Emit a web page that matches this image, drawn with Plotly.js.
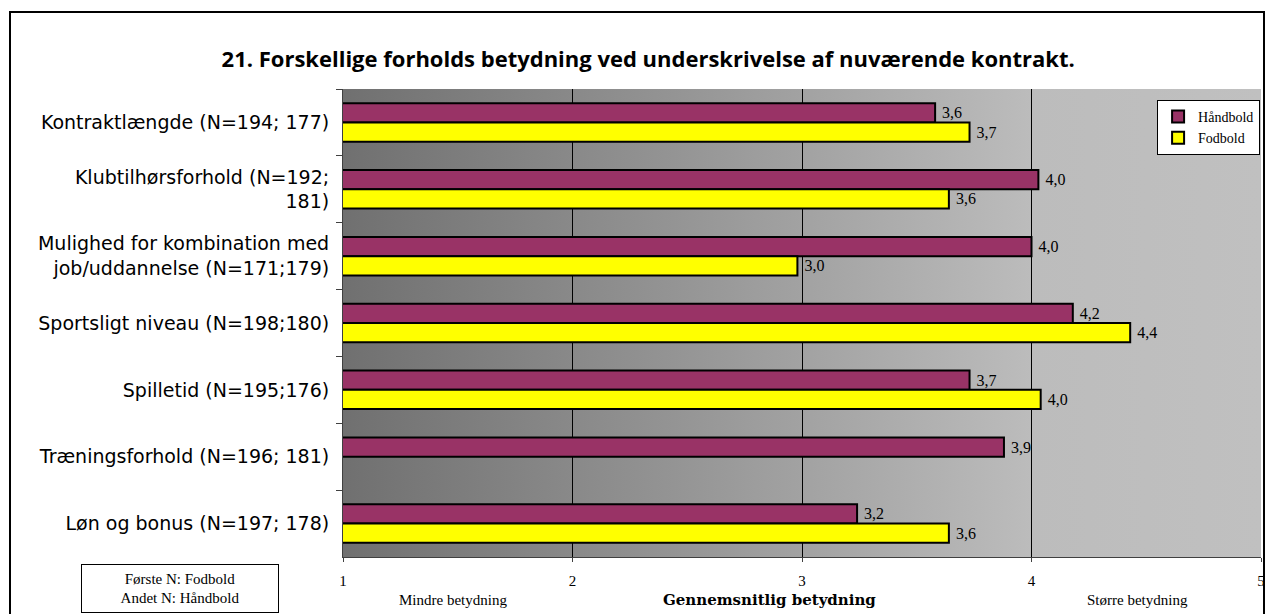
<!DOCTYPE html>
<html>
<head>
<meta charset="utf-8">
<script src="https://cdn.plot.ly/plotly-3.0.1.min.js"></script>
<style>
  html, body { margin: 0; padding: 0; background: #fff; }
  #wrap { position: relative; width: 1266px; height: 614px; overflow: hidden; }
  #chart { position: absolute; left: 0; top: 0; width: 1266px; height: 614px; }
  #frame { position: absolute; left: 9px; top: 11px; width: 1252px; height: 640px;
           border: 2px solid #000; pointer-events: none; }
</style>
</head>
<body>
<div id="wrap">
  <div id="chart"></div>
  <div id="frame"></div>
</div>
<script>
// ---- data ----
const categories = [
  'Kontraktlængde (N=194; 177)',
  'Klubtilhørsforhold (N=192;<br>181)',
  'Mulighed for kombination med<br>job/uddannelse (N=171;179)',
  'Sportsligt niveau (N=198;180)',
  'Spilletid (N=195;176)',
  'Træningsforhold (N=196; 181)',
  'Løn og bonus (N=197; 178)'
];
const handbold = [3.58, 4.03, 4.00, 4.18, 3.73, 3.88, 3.24];
const fodbold  = [3.73, 3.64, 2.98, 4.43, 4.04, null, 3.64];
const seriesNames = ['Håndbold', 'Fodbold'];
const xTickVals = [1, 2, 3, 4, 5];
const scaleLabels = ['Mindre betydning', 'Gennemsnitlig betydning', 'Større betydning'];
const scaleLabelPos = [1.48, 2.86, 4.46];
const titleText = '21. Forskellige forholds betydning ved underskrivelse af nuværende kontrakt.';
const noteText = 'Første N: Fodbold<br>Andet N: Håndbold';

const fmt = v => (v === null ? '' : '\u00a0' + v.toFixed(1).replace('.', ','));
const serif = 'Liberation Serif, Times New Roman, serif';

const mk = (name, vals, color) => ({
  type: 'bar', orientation: 'h', name: name,
  y: categories, x: vals,
  text: vals.map(fmt), textposition: 'outside', cliponaxis: false,
  constraintext: 'none',
  textfont: { family: serif, size: 16, color: '#000' },
  marker: { color: color, line: { color: '#000', width: 2 } },
  hoverinfo: 'x+y'
});

const traces = [
  mk(seriesNames[0], handbold, '#993366'),
  mk(seriesNames[1], fodbold, '#ffff00')
];

const gradSvg = "<svg xmlns='http://www.w3.org/2000/svg' width='400' height='10' viewBox='0 0 400 10' preserveAspectRatio='none'>" +
  "<defs><linearGradient id='g' x1='0' y1='0' x2='1' y2='0'>" +
  "<stop offset='0' stop-color='#707070'/>" +
  "<stop offset='0.25' stop-color='#898989'/>" +
  "<stop offset='0.5' stop-color='#a2a2a2'/>" +
  "<stop offset='0.75' stop-color='#bcbcbc'/>" +
  "<stop offset='1' stop-color='#c0c0c0'/>" +
  "</linearGradient></defs><rect width='400' height='10' fill='url(#g)'/></svg>";
const gradUri = 'data:image/svg+xml;charset=utf-8,' + encodeURIComponent(gradSvg);

const annotations = scaleLabels.map((t, i) => ({
  text: t, xref: 'x', yref: 'paper', x: scaleLabelPos[i], y: -0.092,
  xanchor: 'center', yanchor: 'middle', showarrow: false,
  font: i === 1
    ? { family: 'DejaVu Serif, serif', size: 15, color: '#000', weight: 'bold' }
    : { family: serif, size: 15, color: '#000' }
}));
annotations.push({
  text: noteText, xref: 'paper', yref: 'paper', x: -0.1776, y: -0.0674,
  xanchor: 'center', yanchor: 'middle', showarrow: false, align: 'center',
  width: 194, height: 45, bgcolor: '#fff', bordercolor: '#000', borderwidth: 1,
  font: { family: serif, size: 15, color: '#000' }
});

const layout = {
  width: 1266, height: 614,
  margin: { l: 343, r: 5, t: 89, b: 57, pad: 0 },
  paper_bgcolor: 'rgba(0,0,0,0)',
  plot_bgcolor: '#c0c0c0',
  title: {
    text: titleText, x: 0.512, xref: 'container', xanchor: 'center',
    y: 0.903, yref: 'container', yanchor: 'middle',
    font: { family: 'Open Sans, sans-serif', size: 22, color: '#000', weight: 'bold' }
  },
  barmode: 'group', bargap: 0.424, bargroupgap: 0,
  xaxis: {
    range: [1, 5], tickvals: xTickVals, ticktext: xTickVals.map(String),
    showgrid: true, gridcolor: '#000', gridwidth: 1,
    zeroline: false, showline: true, linecolor: '#404040', linewidth: 1,
    ticks: 'outside', ticklen: 4, tickcolor: '#404040', ticklabelstandoff: 6,
    tickfont: { family: serif, size: 15, color: '#000' }, fixedrange: true
  },
  yaxis: {
    type: 'category', categoryorder: 'array', categoryarray: categories,
    autorange: 'reversed', showgrid: false, zeroline: false,
    showline: true, linecolor: '#404040', linewidth: 1,
    ticks: 'outside', tickson: 'boundaries', ticklen: 6, tickcolor: '#404040',
    ticklabelstandoff: 9,
    tickfont: { family: 'DejaVu Sans, sans-serif', size: 19, color: '#000' },
    fixedrange: true
  },
  legend: {
    x: 0.999, y: 0.9765, xanchor: 'right', yanchor: 'top',
    bgcolor: '#fff', bordercolor: '#000', borderwidth: 1,
    traceorder: 'normal', itemwidth: 30,
    font: { family: serif, size: 14, color: '#000' }
  },
  images: [{
    source: gradUri, xref: 'paper', yref: 'paper', x: 0, y: 1, sizex: 1, sizey: 1,
    xanchor: 'left', yanchor: 'top', sizing: 'stretch', layer: 'below'
  }],
  annotations: annotations,
  showlegend: true
};

Plotly.newPlot('chart', traces, layout, { displayModeBar: false, staticPlot: true });
</script>
</body>
</html>
